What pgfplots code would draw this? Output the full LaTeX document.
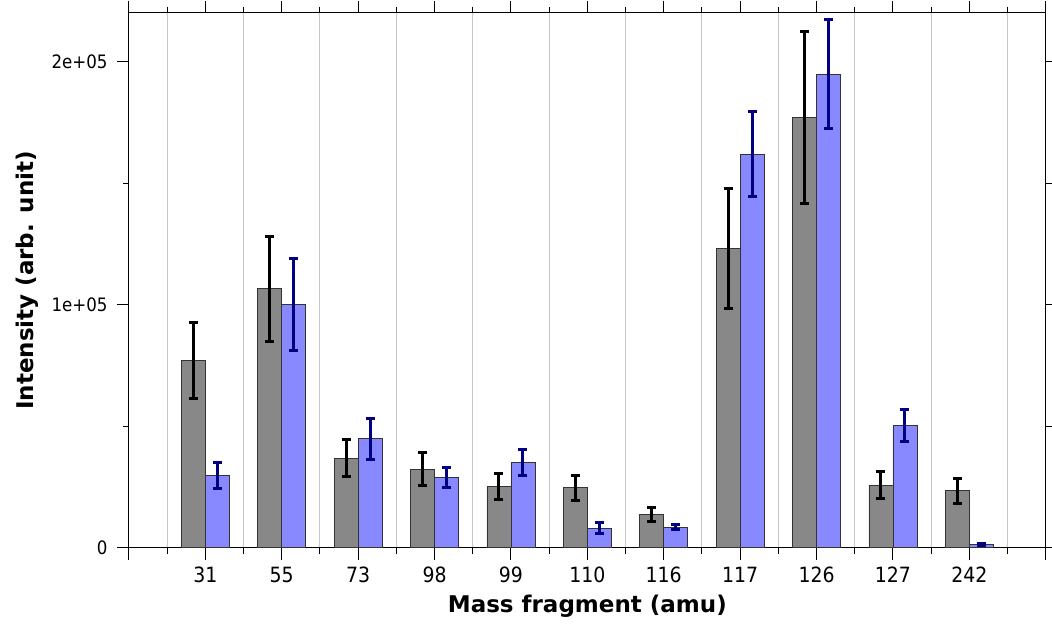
\documentclass[border=0pt]{standalone}
\usepackage{fontspec}
\setmainfont{DejaVu Sans Condensed}
\newfontfamily\labelfont{DejaVu Sans}
\usepackage{pgfplots}
\pgfplotsset{compat=1.18}
\usetikzlibrary{calc}
\definecolor{bargray}{HTML}{888888}
\definecolor{barblue}{HTML}{8888FF}
\definecolor{errblue}{HTML}{000080}
\begin{document}
\begin{tikzpicture}
\begin{axis}[name=ax, scale only axis, width=917pt, height=535pt,
 xmin=-1, xmax=11, ymin=0, ymax=220000,
 ybar=0pt, bar width=24pt,
 xtick={-1,0,...,11}, xticklabels={,31,55,73,98,99,110,116,117,126,127,242,},
 minor xtick={-0.5,0.5,...,10.5},
 xminorgrids, minor x grid style={gray!45, line width=1pt},
 ytick={0,100000,200000}, yticklabels={0,1e+05,2e+05},
 minor ytick={50000,150000},
 tick align=outside, major tick length=12pt, minor tick length=6pt,
 tick style={black, line width=1pt},
 axis line style={line width=1pt},
 scaled y ticks=false,
 xticklabel style={font=\fontsize{21}{21}\selectfont, yshift=-4pt},
 yticklabel style={font=\fontsize{18.5}{18.5}\selectfont, xshift=-6pt},
 xlabel={Mass fragment (amu)}, ylabel={Intensity (arb. unit)},
 label style={font=\labelfont\fontsize{23}{23}\selectfont\bfseries},
 xlabel style={at={(axis description cs:0.5,0)}, anchor=center, yshift=-58pt},
 ylabel style={at={(axis description cs:0,0.5)}, anchor=center, yshift=102pt},
]
\addplot[fill=bargray, draw=black!80, line width=0.8pt,
  error bars/.cd, y dir=both, y explicit,
  error bar style={line width=3pt, black},
  error mark options={rotate=90, mark size=4.5pt, line width=3pt, black}]
 coordinates {
 (0,77000) +- (0,15500)
 (1,106600) +- (0,21600)
 (2,36900) +- (0,7700)
 (3,32400) +- (0,6650)
 (4,25100) +- (0,5300)
 (5,24700) +- (0,5200)
 (6,13700) +- (0,3000)
 (7,123300) +- (0,24700)
 (8,177000) +- (0,35500)
 (9,25800) +- (0,5550)
 (10,23450) +- (0,5050)
 };
\addplot[fill=barblue, draw=black!80, line width=0.8pt,
  error bars/.cd, y dir=both, y explicit,
  error bar style={line width=3pt, errblue},
  error mark options={rotate=90, mark size=4.5pt, line width=3pt, errblue}]
 coordinates {
 (0,29750) +- (0,5300)
 (1,100000) +- (0,19000)
 (2,44850) +- (0,8350)
 (3,28900) +- (0,4000)
 (4,35100) +- (0,5300)
 (5,8100) +- (0,2300)
 (6,8500) +- (0,1000)
 (7,162000) +- (0,17550)
 (8,194800) +- (0,22450)
 (9,50200) +- (0,6600)
 (10,1360) +- (0,400)
 };
\end{axis}
\pgfresetboundingbox
\path[use as bounding box] ($(ax.south west)+(-129pt,-79pt)$) rectangle ($(ax.north east)+(6.3pt,13pt)$);
\end{tikzpicture}
\end{document}
